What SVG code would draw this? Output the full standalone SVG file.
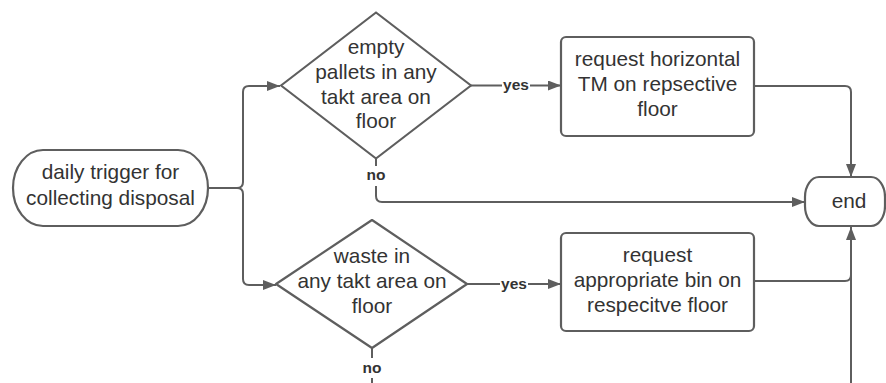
<svg xmlns="http://www.w3.org/2000/svg" width="886" height="383" viewBox="0 0 886 383">
  <defs>
    <marker id="arrow" markerUnits="userSpaceOnUse" markerWidth="14" markerHeight="12" refX="13" refY="5" orient="auto">
      <path d="M0,0 L13,5 L0,10 z" fill="#5e5e5e"/>
    </marker>
    <style>
      .shape { fill: #ffffff; stroke: #5e5e5e; stroke-width: 2.2; stroke-linejoin: round; }
      .line { fill: none; stroke: #5e5e5e; stroke-width: 2; }
      .txt { font-family: "Liberation Sans", Arial, sans-serif; font-size: 20.8px; fill: #333333; text-anchor: middle; }
      .lbl { font-family: "Liberation Sans", Arial, sans-serif; font-size: 15.5px; font-weight: bold; fill: #333333; text-anchor: middle; }
      .lblbg { fill: #ffffff; }
    </style>
  </defs>
  <rect width="886" height="383" fill="#ffffff"/>

  <!-- connectors -->
  <g id="connectors">
    <path class="line" d="M208,188 H237 Q243,188 243,182 V92 Q243,86 249,86 H280" marker-end="url(#arrow)"/>
    <path class="line" d="M237,188 Q243,188 243,194 V279 Q243,285 249,285 H276" marker-end="url(#arrow)"/>
    <path class="line" d="M471,85.5 H561" marker-end="url(#arrow)"/>
    <path class="line" d="M376,158.5 V196 Q376,202 382,202 H805" marker-end="url(#arrow)"/>
    <path class="line" d="M754,86 H845 Q851,86 851,92 V177" marker-end="url(#arrow)"/>
    <path class="line" d="M467,284 H561" marker-end="url(#arrow)"/>
    <path class="line" d="M754,281 H845 Q851,281 851,275 V227" marker-end="url(#arrow)"/>
    <path class="line" d="M851,383 V275"/>
    <path class="line" d="M372,348 V383"/>
    <!-- connector labels -->
    <rect class="lblbg" x="502" y="76" width="28" height="18"/>
    <text class="lbl" x="516" y="90">yes</text>
    <rect class="lblbg" x="365" y="166" width="22" height="20"/>
    <text class="lbl" x="376" y="180">no</text>
    <rect class="lblbg" x="500" y="275" width="28" height="18"/>
    <text class="lbl" x="514" y="289">yes</text>
    <rect class="lblbg" x="361" y="358" width="22" height="20"/>
    <text class="lbl" x="372" y="373">no</text>
  </g>

  <!-- start terminator -->
  <g id="start">
    <rect class="shape" x="13" y="150" width="195" height="76" rx="30" ry="38"/>
    <text class="txt" x="110.5" y="179">daily trigger for</text>
    <text class="txt" x="110.5" y="205">collecting disposal</text>
  </g>

  <!-- decision: empty pallets -->
  <g id="decision-pallets">
    <polygon class="shape" points="281,85.5 376,12.5 471,85.5 376,158.5"/>
    <text class="txt" x="376" y="54.3">empty</text>
    <text class="txt" x="376" y="79">pallets in any</text>
    <text class="txt" x="376" y="103.7">takt area on</text>
    <text class="txt" x="376" y="128.4">floor</text>
  </g>

  <!-- process: horizontal TM -->
  <g id="request-tm">
    <rect class="shape" x="561" y="37" width="193" height="99" rx="5"/>
    <text class="txt" x="657.5" y="65.7">request horizontal</text>
    <text class="txt" x="657.5" y="90.7">TM on repsective</text>
    <text class="txt" x="657.5" y="115.7">floor</text>
  </g>

  <!-- decision: waste -->
  <g id="decision-waste">
    <polygon class="shape" points="276,284 372,220 467,284 372,348"/>
    <text class="txt" x="372" y="262.7">waste in</text>
    <text class="txt" x="372" y="287.7">any takt area on</text>
    <text class="txt" x="372" y="312.7">floor</text>
  </g>

  <!-- process: bin -->
  <g id="request-bin">
    <rect class="shape" x="561" y="233" width="193" height="98" rx="5"/>
    <text class="txt" x="657.5" y="262">request</text>
    <text class="txt" x="657.5" y="287">appropriate bin on</text>
    <text class="txt" x="657.5" y="312">respecitve floor</text>
  </g>

  <!-- end terminator -->
  <g id="end">
    <rect class="shape" x="805" y="177" width="80" height="49" rx="14" ry="20"/>
    <text class="txt" x="849" y="208">end</text>
  </g>
</svg>
